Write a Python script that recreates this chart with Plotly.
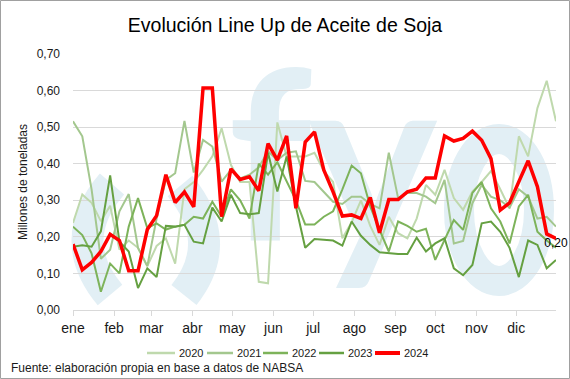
import base64
import pandas as pd
import plotly.graph_objects as go

# Weekly positions within the year (53 weeks)
weeks = pd.date_range("2023-01-01", periods=53, freq="7D")

month_starts = ["2023-01-01", "2023-02-01", "2023-03-01", "2023-04-01", "2023-05-01", "2023-06-01",
                "2023-07-01", "2023-08-01", "2023-09-01", "2023-10-01", "2023-11-01", "2023-12-01"]
month_labels = ["ene", "feb", "mar", "abr", "may", "jun", "jul", "ago", "sep", "oct", "nov", "dic"]

y2020 = [0.238, 0.316, 0.293, 0.243, 0.285, 0.165, 0.19, 0.17, 0.12, 0.175, 0.196, 0.127, 0.33, 0.35,
         0.383, 0.42, 0.497, 0.397, 0.35, 0.35, 0.077, 0.073, 0.513, 0.42, 0.42, 0.42, 0.43, 0.38,
         0.35, 0.196, 0.24, 0.30, 0.23, 0.178, 0.255, 0.21, 0.196, 0.25, 0.342, 0.315, 0.383, 0.306,
         0.274, 0.324, 0.35, 0.38, 0.33, 0.278, 0.475, 0.42, 0.552, 0.627, 0.516]
y2021 = [0.516, 0.475, 0.33, 0.14, 0.165, 0.27, 0.317, 0.17, 0.12, 0.25, 0.356, 0.374, 0.517, 0.376,
         0.465, 0.447, 0.351, 0.383, 0.36, 0.37, 0.39, 0.434, 0.41, 0.43, 0.434, 0.353, 0.35, 0.324,
         0.296, 0.29, 0.31, 0.31, 0.29, 0.278, 0.43, 0.306, 0.32, 0.32, 0.31, 0.292, 0.356, 0.182,
         0.189, 0.292, 0.342, 0.31, 0.30, 0.28, 0.33, 0.31, 0.25, 0.255, 0.228]
y2022 = [0.228, 0.205, 0.155, 0.05, 0.127, 0.10, 0.228, 0.306, 0.224, 0.237, 0.22, 0.228, 0.233, 0.255,
         0.25, 0.296, 0.255, 0.33, 0.30, 0.25, 0.40, 0.37, 0.404, 0.35, 0.30, 0.234, 0.234, 0.255,
         0.27, 0.33, 0.395, 0.374, 0.283, 0.219, 0.16, 0.242, 0.23, 0.214, 0.222, 0.137, 0.19, 0.246,
         0.219, 0.32, 0.35, 0.278, 0.242, 0.182, 0.283, 0.315, 0.214, 0.19, 0.17]
y2023 = [0.173, 0.177, 0.173, 0.215, 0.368, 0.187, 0.16, 0.06, 0.114, 0.09, 0.23, 0.228, 0.233, 0.187,
         0.182, 0.28, 0.242, 0.315, 0.265, 0.262, 0.265, 0.43, 0.324, 0.42, 0.283, 0.17, 0.194, 0.193,
         0.19, 0.176, 0.242, 0.203, 0.178, 0.158, 0.155, 0.153, 0.153, 0.198, 0.16, 0.182, 0.196, 0.114,
         0.095, 0.123, 0.237, 0.242, 0.214, 0.17, 0.09, 0.19, 0.178, 0.114, 0.137]
y2024 = [0.18, 0.11, 0.13, 0.16, 0.207, 0.19, 0.107, 0.107, 0.22, 0.258, 0.37, 0.294, 0.323, 0.282,
         0.607, 0.607, 0.255, 0.386, 0.357, 0.364, 0.326, 0.455, 0.41, 0.476, 0.278, 0.459, 0.487,
         0.383, 0.323, 0.257, 0.26, 0.25, 0.308, 0.211, 0.302, 0.302, 0.323, 0.33, 0.361, 0.361, 0.476,
         0.462, 0.469, 0.489, 0.464, 0.414, 0.273, 0.293, 0.351, 0.408, 0.337, 0.208, 0.196]

series_names = ["2020", "2021", "2022", "2023", "2024"]
series_values = [y2020, y2021, y2022, y2023, y2024]
series_colors = ["#bfd9ad", "#a3c78e", "#7db35a", "#65a041", "#ff0000"]
series_widths = [2, 2, 2, 2, 3.5]

FONT = "Liberation Sans, Arial, sans-serif"
TXT = "#1a1a1a"

W, H = 570, 379
L, R, T, B = 73, 14, 54, 69
pw, ph = W - L - R, H - T - B


def px(xpix):
    return (xpix - L) / pw


def py(ypix):
    return (H - B - ypix) / ph


fig = go.Figure()

for name, vals, color, w in zip(series_names, series_values, series_colors, series_widths):
    if name == "2024":
        labels = [""] * (len(vals) - 1) + ["0,20"]
        fig.add_trace(go.Scatter(x=weeks, y=vals, mode="lines+text", name=name,
                                 line=dict(color=color, width=w), cliponaxis=False,
                                 text=labels, textposition="bottom center",
                                 textfont=dict(family=FONT, size=12, color="#000000"),
                                 showlegend=False))
    else:
        fig.add_trace(go.Scatter(x=weeks, y=vals, mode="lines", name=name,
                                 line=dict(color=color, width=w), showlegend=False))

fig.update_layout(
    width=W, height=H,
    margin=dict(l=L, r=R, t=T, b=B),
    paper_bgcolor="white", plot_bgcolor="rgba(0,0,0,0)",
    font=dict(family=FONT, size=12, color=TXT),
    separators=",.",
    showlegend=False,
    title=dict(text="Evolución Line Up de Aceite de Soja", x=0.5, xanchor="center",
               y=1 - 25 / H, yanchor="middle",
               font=dict(family=FONT, size=19.5, color="#000000")),
    xaxis=dict(type="date", range=["2023-01-01", "2023-12-31"], tickvals=month_starts,
               ticktext=month_labels, ticks="outside", ticklen=5, tickcolor="#d9d9d9",
               showline=True, linecolor="#d9d9d9", showgrid=False, automargin=False,
               tickfont=dict(family=FONT, size=14, color=TXT)),
    yaxis=dict(range=[0, 0.70], dtick=0.1, tickformat=".2f", showgrid=True, gridcolor="#d9d9d9",
               zeroline=False, showline=False, ticks="", automargin=False, ticklabelstandoff=12,
               tickfont=dict(family=FONT, size=12, color=TXT),
               title=dict(text="Millones de toneladas", font=dict(family=FONT, size=12, color=TXT),
                          standoff=6)),
)

# faint logo watermark behind the plot (drawn as an inline SVG image)
wm = "#e2eff5"
svg = (
    f'<svg xmlns="http://www.w3.org/2000/svg" width="{W}" height="{H}" viewBox="0 0 {W} {H}">'
    f'<g fill="none" stroke="{wm}" stroke-width="32">'
    '<path d="M 112 184 Q 64 240 110 295"/>'
    '<path d="M 180 186 Q 226 242 184 295"/>'
    '<ellipse cx="499" cy="210" rx="40" ry="71" stroke-width="30"/>'
    '</g>'
    f'<text x="228" y="240" font-family="Lato" font-weight="bold" font-size="235" fill="{wm}">f</text>'
    f'<text x="308" y="247" font-family="Lato" font-weight="bold" font-size="245" fill="{wm}">y</text>'
    '</svg>'
)
uri = "data:image/svg+xml;base64," + base64.b64encode(svg.encode("utf-8")).decode("ascii")
fig.add_layout_image(dict(source=uri, xref="paper", yref="paper", x=px(0), y=py(0),
                          sizex=W / pw, sizey=H / ph, xanchor="left", yanchor="top",
                          sizing="stretch", layer="below"))

# legend drawn as line samples + labels below the plot
legend_line_x = [(147, 175), (207, 233), (263, 288), (319, 344), (375, 400)]
legend_y = 353
for (x0, x1), name, color, w in zip(legend_line_x, series_names, series_colors, series_widths):
    fig.add_shape(type="line", xref="paper", yref="paper", x0=px(x0), x1=px(x1),
                  y0=py(legend_y), y1=py(legend_y), line=dict(color=color, width=w + 0.5))
    fig.add_annotation(text=name, xref="paper", yref="paper", x=px(x1 + 2), y=py(legend_y),
                       xanchor="left", yanchor="middle", showarrow=False,
                       font=dict(family=FONT, size=11, color=TXT))

fig.add_annotation(text="Fuente: elaboración propia en base a datos de NABSA", xref="paper", yref="paper",
                   x=px(9), y=py(368), xanchor="left", yanchor="middle",
                   showarrow=False, font=dict(family=FONT, size=12, color=TXT))

fig.add_shape(type="rect", xref="paper", yref="paper",
              x0=px(0.5), x1=px(W - 0.5), y0=py(H - 0.5), y1=py(0.5),
              line=dict(color="#a0a0a0", width=1), fillcolor="rgba(0,0,0,0)", layer="below")

fig.write_html("out.html", config={"displayModeBar": False},
               post_script="document.body.style.margin='0';")
